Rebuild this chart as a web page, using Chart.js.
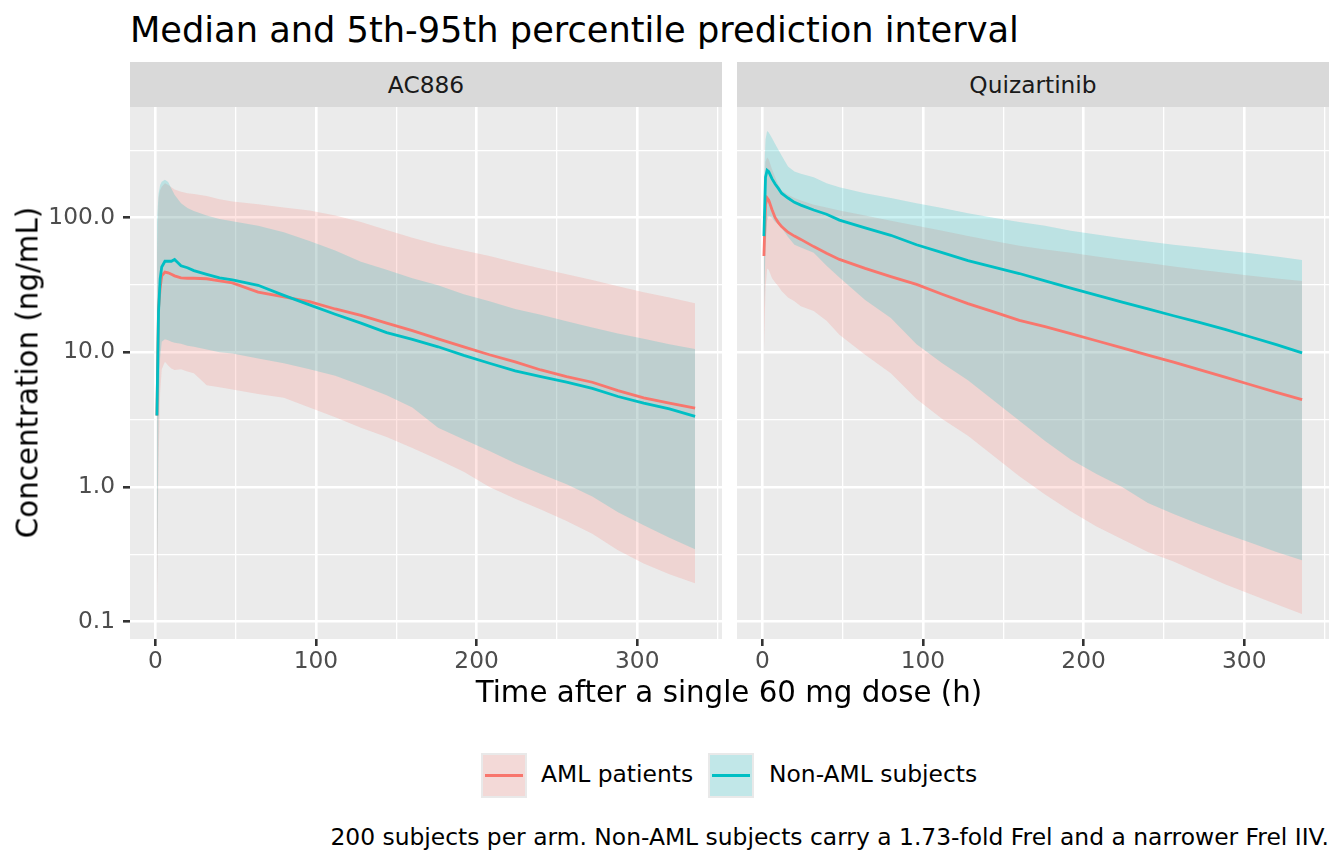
<!DOCTYPE html>
<html>
<head>
<meta charset="utf-8">
<title>Median and 5th-95th percentile prediction interval</title>
<script src="https://cdn.jsdelivr.net/npm/chart.js@4/dist/chart.umd.min.js"></script>
<style>
  body { margin: 0; width: 1344px; height: 864px; background: #fff; position: relative; overflow: hidden;
         font-family: "DejaVu Sans", sans-serif; }
  .abs { position: absolute; white-space: nowrap; }
  #title { left: 130px; top: 12px; font-size: 35.2px; line-height: 1; color: #000; }
  .strip { top: 62px; width: 592px; height: 45px; line-height: 45px; background: #d9d9d9; color: #1a1a1a;
           font-size: 23.3px; text-align: center; }
  #xtitle { left: 229px; width: 1000px; top: 678px; font-size: 29.3px; line-height: 1; text-align: center; color: #000; }
  #ytitle { left: -222px; width: 500px; top: 358px; height: 29px; font-size: 29.3px; line-height: 1; text-align: center;
            color: #000; transform: rotate(-90deg); }
  .key { top: 753px; width: 46px; height: 45px; background: #e9e9e9; }
  .key .fill { position: absolute; left: 2px; top: 2px; width: 42px; height: 41px; }
  .key .line { position: absolute; left: 4px; width: 38px; top: 21px; height: 3px; }
  .ltext { top: 763px; font-size: 23.4px; line-height: 1; color: #000; }
  #caption { right: 15px; top: 826px; font-size: 23.4px; line-height: 1; color: #000; }
  canvas { position: absolute; top: 107px; }
</style>
</head>
<body>
<div id="title" class="abs">Median and 5th-95th percentile prediction interval</div>
<div class="abs strip" style="left:130px">AC886</div>
<div class="abs strip" style="left:737px">Quizartinib</div>
<canvas id="panelA" width="722" height="573" style="left:0"></canvas>
<canvas id="panelB" width="592" height="573" style="left:737px"></canvas>
<div id="ytitle" class="abs">Concentration (ng/mL)</div>
<div id="xtitle" class="abs">Time after a single 60 mg dose (h)</div>
<div id="legend"></div>
<div id="caption" class="abs">200 subjects per arm. Non-AML subjects carry a 1.73-fold Frel and a narrower Frel IIV.</div>
<script>
// time grid (h)
const hours = [1, 2, 3, 4, 6, 8, 10, 12, 16, 20, 24, 32, 40, 48, 64, 80, 96, 112, 128, 144, 160, 176, 192, 208, 224, 240, 256, 272, 288, 304, 320, 336];

// AC886 panel
const acAmlMed = [3.4, 21, 30, 37, 39.5, 39, 38, 37, 35.8, 35.5, 35.5, 35.2, 34, 32.8, 28, 25.8, 23.8, 21, 18.8, 16.5, 14.5, 12.6, 11, 9.6, 8.5, 7.4, 6.6, 6.0, 5.2, 4.6, 4.2, 3.85];
const acAmlLo = [0.1, 1.5, 5, 7.5, 8.5, 8, 7.6, 7.4, 7.5, 7.2, 7.0, 5.7, 5.5, 5.3, 4.9, 4.6, 3.9, 3.3, 2.75, 2.35, 1.95, 1.6, 1.3, 1.0, 0.82, 0.68, 0.56, 0.45, 0.34, 0.27, 0.225, 0.193];
const acAmlHi = [50, 140, 160, 170, 180, 175, 168, 162, 156, 152, 150, 145, 137, 132, 126, 119, 113, 104, 93, 81, 71, 63, 57, 52, 46.5, 42, 38, 34.5, 31, 28, 25.5, 23.2];
const acNonMed = [3.4, 20, 35, 43, 47.5, 47.5, 47.5, 49, 44, 42.5, 40.5, 38, 35.8, 34.5, 31.5, 26.5, 22.5, 19.2, 16.5, 14.0, 12.5, 11.0, 9.5, 8.3, 7.3, 6.6, 6.0, 5.4, 4.7, 4.2, 3.8, 3.35];
const acNonLo = [0.14, 3, 9, 12, 12.5, 12.3, 12, 11.8, 11.6, 11.2, 11, 10.5, 10, 9.8, 9, 8.3, 7.5, 6.7, 5.7, 4.8, 3.9, 2.75, 2.25, 1.85, 1.5, 1.25, 1.05, 0.85, 0.65, 0.52, 0.42, 0.345];
const acNonHi = [90, 150, 175, 185, 191, 184, 165, 148, 128, 118, 112, 104, 98, 94, 87, 78, 67, 57, 47, 41, 35.5, 31.5, 27, 24, 21, 19, 17, 15.3, 13.8, 12.6, 11.5, 10.6];

// Quizartinib panel
const qzAmlMed = [52, 125, 140, 135, 115, 100, 92, 86, 78, 73, 69, 61, 54.5, 49, 42, 36.5, 32, 27, 23, 20, 17.3, 15.5, 13.8, 12.2, 10.8, 9.55, 8.45, 7.45, 6.55, 5.75, 5.05, 4.45];
const qzAmlLo = [10, 30, 42, 41, 35.6, 33, 31, 28.5, 25.5, 24, 22, 20.3, 17.2, 13.5, 9.6, 7.0, 4.5, 3.2, 2.4, 1.7, 1.2, 0.88, 0.66, 0.51, 0.41, 0.33, 0.28, 0.23, 0.19, 0.16, 0.135, 0.114];
const qzAmlHi = [120, 260, 280, 270, 230, 200, 175, 160, 148, 140, 134, 125, 119, 113, 104, 95, 87, 80, 73, 67, 62, 58, 55, 51.5, 48.5, 46, 43.5, 41, 39, 37, 35.4, 33.9];
const qzNonMed = [73, 200, 225, 220, 195, 178, 165, 152, 140, 130, 124, 114, 106, 96, 84, 74, 63, 55, 48, 43, 38.5, 34, 30, 26.6, 23.6, 21, 18.7, 16.7, 14.8, 13.0, 11.4, 9.9];
const qzNonLo = [20, 60, 95, 103, 100, 93, 89, 84, 72, 63, 60, 55, 44, 36, 24.5, 18, 11.5, 8.3, 6.2, 4.4, 3.1, 2.2, 1.6, 1.25, 1.0, 0.76, 0.63, 0.53, 0.45, 0.385, 0.33, 0.286];
const qzNonHi = [180, 380, 440, 430, 390, 352, 320, 290, 240, 220, 212, 200, 180, 168, 152, 140, 128, 118, 108, 100, 93, 87, 80, 75, 70.5, 66.5, 63, 60, 57, 54.5, 51.5, 48.6];

const groups = ['AML patients', 'Non-AML subjects'];

const yTicks = [0.1, 0.3162, 1, 3.162, 10, 31.62, 100, 316.2];
const yTickLabels = ['0.1', '', '1.0', '', '10.0', '', '100.0', ''];
const xTicks = [0, 50, 100, 150, 200, 250, 300, 350];
const xTickLabels = ['0', '', '100', '', '200', '', '300', ''];

const AML = '#F8766D', NON = '#00BFC4';
const AML_FILL = 'rgba(248,118,109,0.2)', NON_FILL = 'rgba(0,191,196,0.2)';
const NONE = 'rgba(0,0,0,0)';
const tickFont = { family: 'DejaVu Sans', size: 23.3 };

function pts(arr) {
  return hours.map((t, i) => ({ x: t, y: arr[i] }));
}

const panelBg = {
  id: 'panelBg',
  beforeDraw(chart) {
    const { ctx, chartArea: a } = chart;
    ctx.save();
    ctx.fillStyle = '#ebebeb';
    ctx.fillRect(a.left, a.top, a.right - a.left, a.bottom - a.top);
    ctx.restore();
  }
};

function isLabelled(labels, ticks, v) {
  return labels[ticks.indexOf(v)] !== '';
}

function makePanel(id, s, showY) {
  const datasets = [
    { label: groups[0] + ' 95th', data: pts(s.amlHi), fill: '+1', backgroundColor: AML_FILL, borderColor: NONE, borderWidth: 0, order: 6 },
    { label: groups[0] + ' 5th', data: pts(s.amlLo), fill: false, borderColor: NONE, borderWidth: 0, order: 5 },
    { label: groups[1] + ' 95th', data: pts(s.nonHi), fill: '+1', backgroundColor: NON_FILL, borderColor: NONE, borderWidth: 0, order: 4 },
    { label: groups[1] + ' 5th', data: pts(s.nonLo), fill: false, borderColor: NONE, borderWidth: 0, order: 3 },
    { label: groups[0], data: pts(s.amlMed), fill: false, borderColor: AML, borderWidth: 2.8, order: 2 },
    { label: groups[1], data: pts(s.nonMed), fill: false, borderColor: NON, borderWidth: 2.8, order: 1 }
  ];
  return new Chart(document.getElementById(id), {
    type: 'line',
    data: { datasets: datasets },
    plugins: [panelBg],
    options: {
      animation: false,
      responsive: false,
      layout: { padding: 0 },
      elements: { point: { radius: 0 }, line: { tension: 0 } },
      plugins: { legend: { display: false }, tooltip: { enabled: false } },
      scales: {
        x: {
          type: 'linear', bounds: 'data', min: -15.75, max: 352.75,
          afterBuildTicks: ax => { ax.ticks = xTicks.map(v => ({ value: v })); },
          afterFit: ax => { ax.height = 41; ax.paddingLeft = 0; ax.paddingRight = 0; },
          ticks: {
            autoSkip: false, maxRotation: 0, padding: 2, color: '#4d4d4d', font: tickFont,
            callback: v => xTickLabels[xTicks.indexOf(v)] || ''
          },
          grid: {
            color: '#ffffff', tickLength: 7, tickWidth: 2.6,
            lineWidth: c => (c.tick && isLabelled(xTickLabels, xTicks, c.tick.value)) ? 2.6 : 1.3,
            tickColor: c => (c.tick && isLabelled(xTickLabels, xTicks, c.tick.value)) ? '#333333' : NONE
          },
          border: { display: false }
        },
        y: {
          type: 'logarithmic', bounds: 'data', min: 0.0744, max: 663.7,
          afterBuildTicks: ax => { ax.ticks = yTicks.map(v => ({ value: v })); },
          afterFit: ax => { ax.width = showY ? 130 : 0; ax.paddingTop = 0; ax.paddingBottom = 0; },
          ticks: {
            display: showY, autoSkip: false, padding: 8, color: '#4d4d4d', font: tickFont,
            callback: v => yTickLabels[yTicks.indexOf(v)] || ''
          },
          grid: {
            color: '#ffffff', drawTicks: showY, tickLength: 7, tickWidth: 2.6,
            lineWidth: c => (c.tick && isLabelled(yTickLabels, yTicks, c.tick.value)) ? 2.6 : 1.3,
            tickColor: c => (c.tick && isLabelled(yTickLabels, yTicks, c.tick.value)) ? '#333333' : NONE
          },
          border: { display: false }
        }
      }
    }
  });
}

makePanel('panelA', { amlMed: acAmlMed, amlLo: acAmlLo, amlHi: acAmlHi, nonMed: acNonMed, nonLo: acNonLo, nonHi: acNonHi }, true);
makePanel('panelB', { amlMed: qzAmlMed, amlLo: qzAmlLo, amlHi: qzAmlHi, nonMed: qzNonMed, nonLo: qzNonLo, nonHi: qzNonHi }, false);

// legend (html)
const legend = document.getElementById('legend');
const keyLeft = [481, 708];
const textLeft = [541, 769];
const keyFill = [AML_FILL, NON_FILL];
const keyLine = [AML, NON];
groups.forEach((g, i) => {
  const key = document.createElement('div');
  key.className = 'abs key';
  key.style.left = keyLeft[i] + 'px';
  key.innerHTML = '<div class="fill" style="background:#f2f2f2"></div>' +
    '<div class="fill" style="background:' + keyFill[i] + '"></div>' +
    '<div class="line" style="background:' + keyLine[i] + '"></div>';
  legend.appendChild(key);
  const txt = document.createElement('div');
  txt.className = 'abs ltext';
  txt.style.left = textLeft[i] + 'px';
  txt.textContent = g;
  legend.appendChild(txt);
});
</script>
</body>
</html>
